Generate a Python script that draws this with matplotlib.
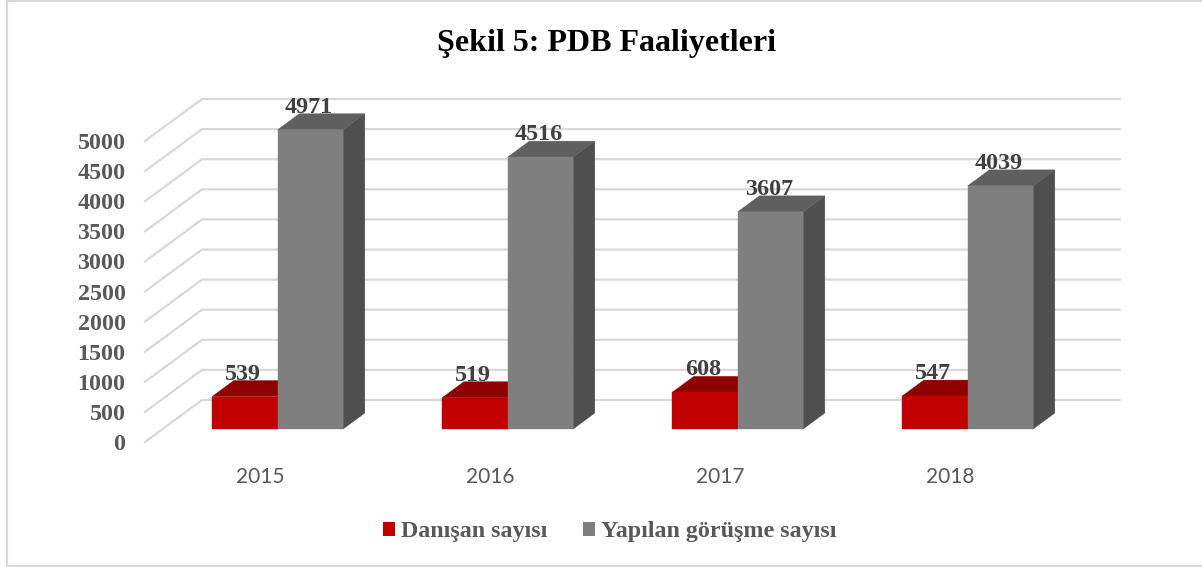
import matplotlib
matplotlib.use('Agg')
import matplotlib.pyplot as plt
from matplotlib.lines import Line2D
from matplotlib.patches import Patch, Polygon

years = ['2015', '2016', '2017', '2018']
danisan = [539, 519, 608, 547]
gorusme = [4971, 4516, 3607, 4039]
y_ticks = list(range(0, 5001, 500))
series_names = ['Danışan sayısı', 'Yapılan görüşme sayısı']

W, H = 1202, 567
SERIF = 'Liberation Serif'

# pikseller: on zemin cizgisi 145-1063, 0 -> y=442, 5000 -> y=141
X0, X1 = 145, 1120
Y0, Y1 = 442, 99
PX_X = 230.0
PX_Y = 301.0 / 5000

fig = plt.figure(figsize=(W / 100, H / 100), dpi=100)
ax = fig.add_axes([X0 / W, 1 - Y0 / H, (X1 - X0) / W, (Y0 - Y1) / H])
ax.set_xlim(-0.5, -0.5 + (X1 - X0) / PX_X)
ax.set_ylim(0, (Y0 - Y1) / PX_Y)
ax.patch.set_visible(False)
for s in ax.spines.values():
    s.set_visible(False)

# derinlik: 0 = on kenar, 1 = arka duvar
def proj(x, v, d):
    return (x + d * 57 / PX_X, v + d * 42 / PX_Y)

def box(x0, x1, v, c_front, c_top, c_side, z):
    d0, d1 = 0.31, 0.69
    base = 0
    front = [proj(x0, base, d0), proj(x1, base, d0), proj(x1, v, d0), proj(x0, v, d0)]
    top = [proj(x0, v, d0), proj(x1, v, d0), proj(x1, v, d1), proj(x0, v, d1)]
    side = [proj(x1, base, d0), proj(x1, base, d1), proj(x1, v, d1), proj(x1, v, d0)]
    ax.add_patch(Polygon(side, fc=c_side, ec=c_side, lw=0.3, zorder=z, clip_on=False))
    ax.add_patch(Polygon(top, fc=c_top, ec=c_top, lw=0.3, zorder=z, clip_on=False))
    ax.add_patch(Polygon(front, fc=c_front, ec=c_front, lw=0.3, zorder=z + 0.1, clip_on=False))

for v in y_ticks:
    a = proj(-0.5, v, 0)
    b = proj(-0.5, v, 1)
    c = proj(3.49, v, 1)
    ax.plot([a[0], b[0], c[0]], [a[1], b[1], c[1]], color='#d9d9d9', lw=1.6, zorder=1,
            solid_joinstyle='miter', clip_on=False)

bw = 65.5 / PX_X
for i in range(len(years)):
    box(i - bw, i, danisan[i], '#c00000', '#8f0000', '#8f0000', 2)
    box(i, i + bw, gorusme[i], '#7f7f7f', '#5f5f5f', '#4f4f4f', 3)
    # deger etiketleri
    for xc, v in [(i - bw / 2, danisan[i]), (i + bw / 2, gorusme[i])]:
        py = proj(xc, v, 0.69)[1]
        lx = proj(xc, v, 0.31)[0] - 1.5 / PX_X
        ax.text(lx, py + 1 / PX_Y, str(v), ha='center', va='baseline', fontsize=17.3,
                family=SERIF, fontweight='bold', color='#404040', zorder=6)

ax.set_yticks(y_ticks)
ax.set_yticklabels([str(v) for v in y_ticks], family=SERIF, fontweight='bold',
                   fontsize=17.3, color='#595959')
ax.set_xticks(range(len(years)))
ax.set_xticklabels(years, family='Lato', fontsize=15, color='#595959')
ax.tick_params(axis='y', length=0, pad=14)
ax.tick_params(axis='x', length=0, pad=18)

fig.text(607 / W, 1 - 43 / H, 'Şekil 5: PDB Faaliyetleri', ha='center', va='center',
         family=SERIF, fontweight='bold', fontsize=23, color='black')

handles = [Patch(fc='#c00000', ec='none'), Patch(fc='#7f7f7f', ec='none')]
fig.legend(handles, series_names, loc='center', bbox_to_anchor=(610 / W, 1 - 532 / H), ncol=2,
           frameon=False, prop={'family': SERIF, 'weight': 'bold', 'size': 17.3},
           labelcolor='#595959', handlelength=0.5, handleheight=0.5, handletextpad=0.25,
           columnspacing=1.5)

# cerceve: sag kenar yok
fy = [1 - 1 / H, 1 - 566 / H]
fig.add_artist(Line2D([7 / W, 1], [fy[0], fy[0]], color='#d9d9d9', lw=1.5))
fig.add_artist(Line2D([7 / W, 1], [fy[1], fy[1]], color='#d9d9d9', lw=1.5))
fig.add_artist(Line2D([7 / W, 7 / W], fy, color='#d9d9d9', lw=1.5))

fig.savefig('out.png', dpi=100)
